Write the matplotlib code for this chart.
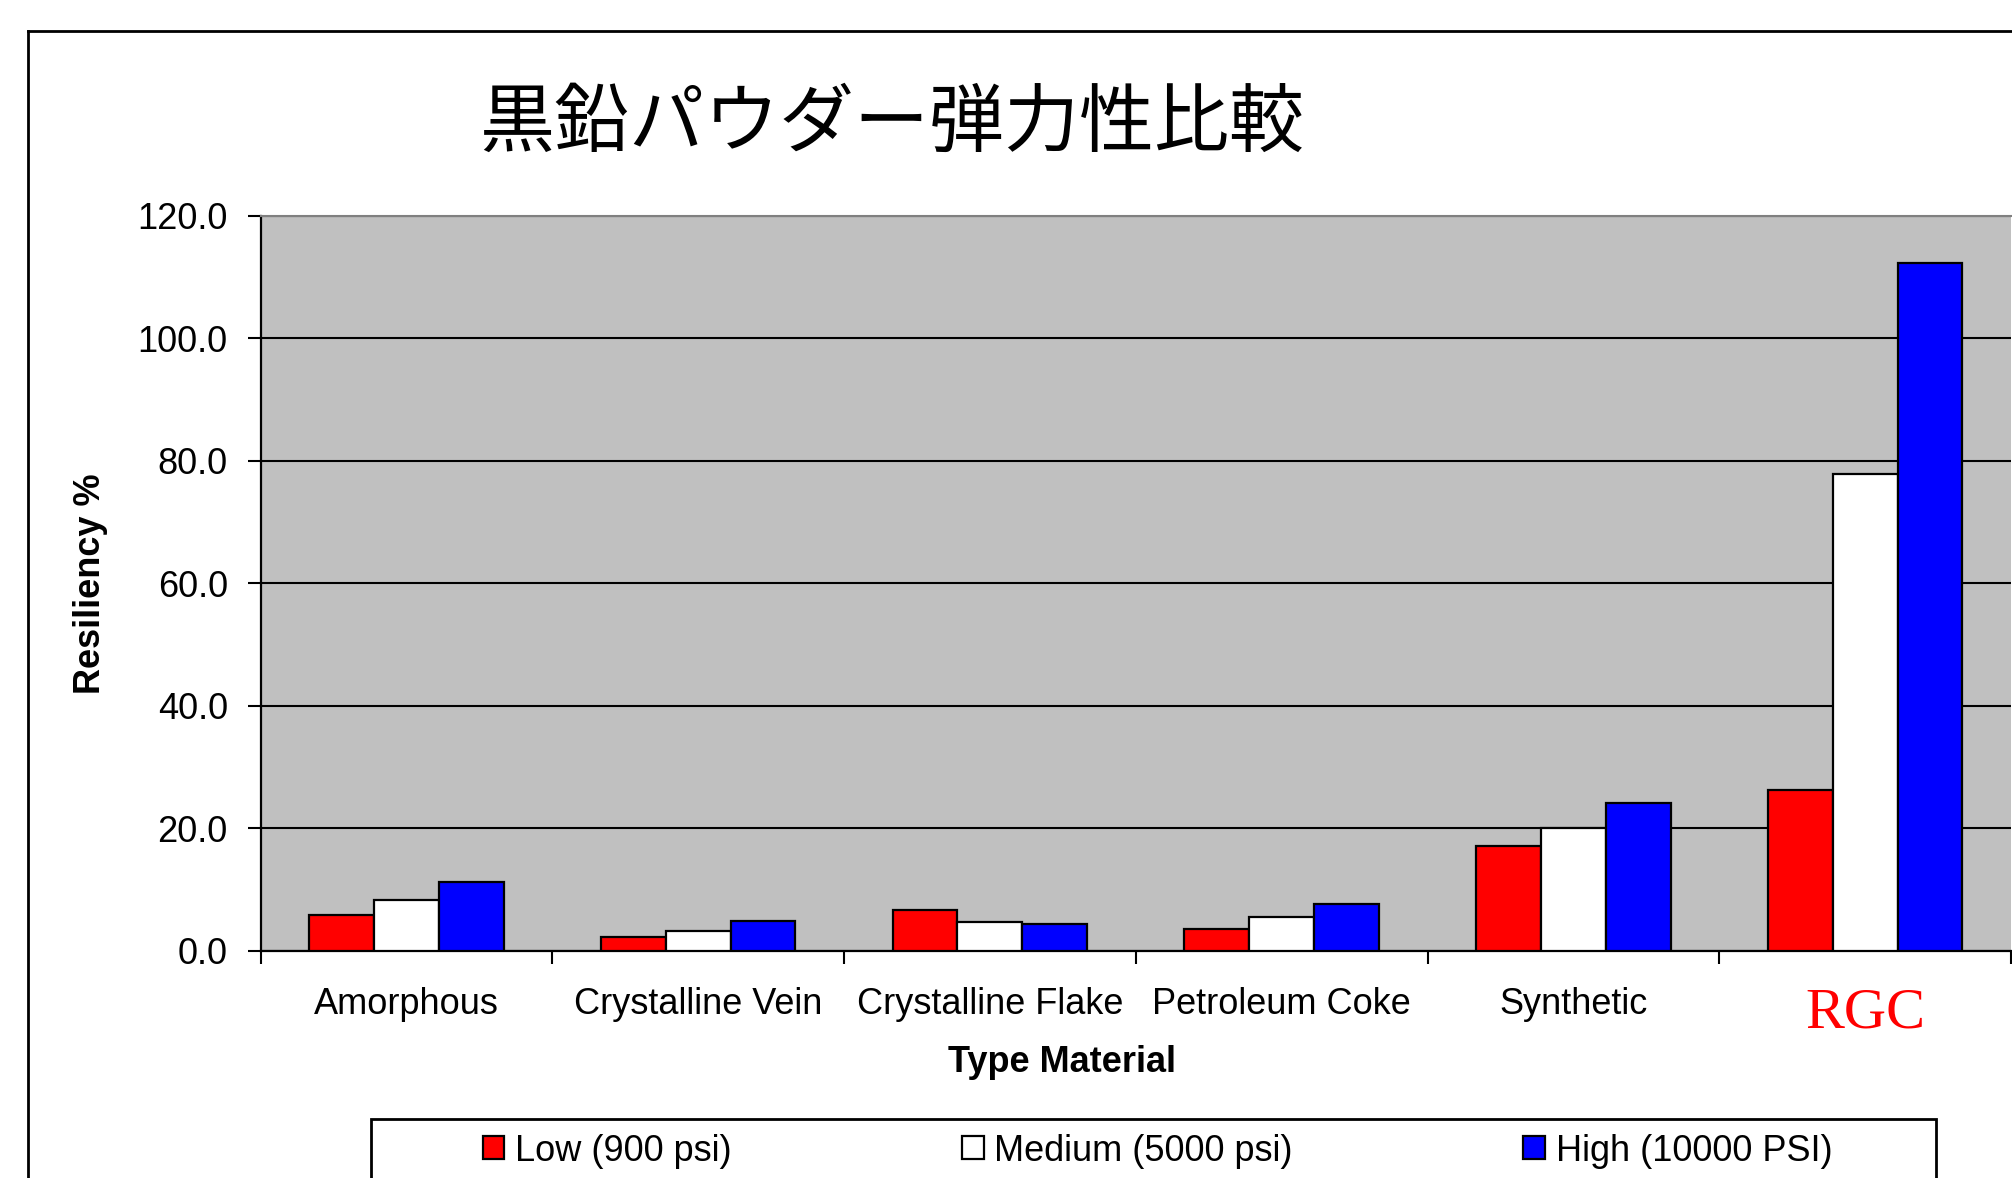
import numpy as np
import matplotlib.pyplot as plt
from matplotlib.lines import Line2D
from matplotlib.patches import Rectangle

plt.rcParams.update({
    'font.family': ['Liberation Sans', 'DejaVu Sans'],
    'font.size': 26,
})

# data
materials = ['Amorphous', 'Crystalline Vein', 'Crystalline Flake',
             'Petroleum Coke', 'Synthetic', 'RGC']
low = [5.8, 2.2, 6.6, 3.6, 17.2, 26.3]
medium = [8.3, 3.3, 4.7, 5.5, 20.0, 77.8]
high = [11.2, 4.8, 4.4, 7.6, 24.1, 112.2]
series_names = ['Low (900 psi)', 'Medium (5000 psi)', 'High (10000 PSI)']
series_colors = ['#FF0000', '#FFFFFF', '#0000FF']
yticks = [0, 20, 40, 60, 80, 100, 120]

W, H = 2012, 1178
fig = plt.figure(figsize=(W / 100, H / 100), dpi=100)

# plot area in pixel terms of the reference
left, right, top, bottom = 260.5, 2011.0, 215.6, 950.9
ax = fig.add_axes([left / W, 1 - bottom / H, (right - left) / W, (bottom - top) / H])
ax.set_facecolor('#C0C0C0')

x = np.arange(len(materials))
width = 1 / 4.5
for i, (vals, name, col) in enumerate(zip([low, medium, high], series_names, series_colors)):
    ax.bar(x + (i - 1) * width, vals, width, color=col, edgecolor='black',
           linewidth=1.6, label=name, zorder=3)

ax.set_xlim(-0.5, len(materials) - 0.5)
ax.set_ylim(0, 120)
ax.set_yticks(yticks)
ax.set_yticklabels([f'{v:.1f}' for v in yticks])
ax.yaxis.grid(True, color='black', linewidth=1.5)
ax.set_axisbelow(True)

ax.set_xticks(x)
ax.set_xticklabels(materials)
ax.set_xticks(np.arange(len(materials) + 1) - 0.5, minor=True)
ax.tick_params(axis='x', which='major', length=0, pad=26)
ax.tick_params(axis='x', which='minor', length=9.5, width=1.5, direction='out')
ax.tick_params(axis='y', length=9.5, width=1.5, direction='out', pad=14)

rgc = ax.get_xticklabels()[-1]
rgc.set_color('red')
rgc.set_family(['Liberation Serif', 'DejaVu Serif'])
rgc.set_fontsize(42)
rgc.set_x(5.02)

for s in ['left', 'bottom']:
    ax.spines[s].set_color('black')
    ax.spines[s].set_linewidth(1.6)
ax.spines['top'].set_color('#808080')
ax.spines['top'].set_linewidth(1.5)
ax.spines['right'].set_visible(False)

# titles and axis labels
fig.text(892 / W, 1 - 124 / H, '黒鉛パウダー弾力性比較', ha='center', va='center',
         fontsize=54, family=['Noto Sans CJK JP', 'DejaVu Sans'])
fig.text(1062 / W, 1 - 1062 / H, 'Type Material', ha='center', va='center',
         fontsize=26, fontweight='bold')
fig.text(90 / W, 1 - 584 / H, 'Resiliency %', ha='center', va='center',
         rotation=90, fontsize=26, fontweight='bold')

# legend, spread across its box
handles, labels = ax.get_legend_handles_labels()
fig.legend(handles, labels, loc='upper left',
           bbox_to_anchor=(479 / W, 0.0, 1357 / W, 1 - 1130 / H),
           mode='expand', ncol=3, frameon=False, fontsize=26,
           handlelength=0.6, handleheight=0.6, handletextpad=0.3,
           borderpad=0.1, borderaxespad=0)
fig.add_artist(Rectangle((371 / W, -0.05), 1565 / W, (1178 - 1119) / H + 0.05,
                         transform=fig.transFigure, fill=False,
                         edgecolor='black', linewidth=2))

# outer chart frame (left and top edges only visible)
fig.add_artist(Line2D([28 / W, 28 / W], [0, 1 - 31 / H], color='black', linewidth=2))
fig.add_artist(Line2D([28 / W, 1], [1 - 31 / H, 1 - 31 / H], color='black', linewidth=2))

fig.savefig('out.png', dpi=100)
